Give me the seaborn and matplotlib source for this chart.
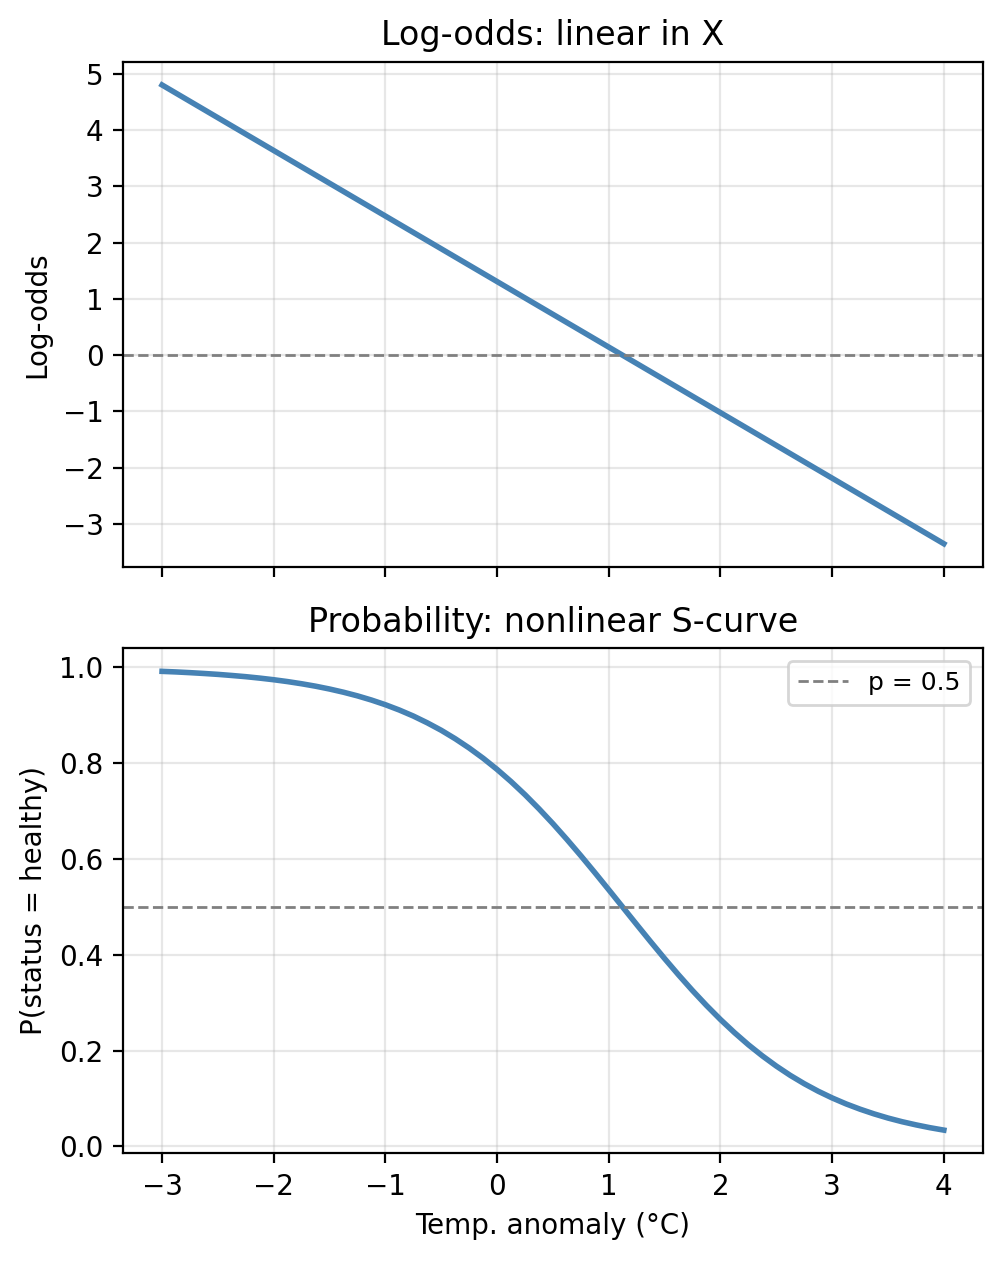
import numpy as np
import pandas as pd
import matplotlib
matplotlib.use("Agg")
import matplotlib.pyplot as plt
from matplotlib.ticker import MultipleLocator
import seaborn as sns

# values
# top panel: log-odds line
logit_x = [-3.0, -2.0, -1.0, 0.0, 1.0, 2.0, 3.0, 4.0]
log_odds = [4.799, 3.635, 2.471, 1.307, 0.143, -1.021, -2.185, -3.349]

# bottom panel: probability curve
prob_x = [-3.0, -2.875, -2.75, -2.625, -2.5, -2.375, -2.25, -2.125,
          -2.0, -1.875, -1.75, -1.625, -1.5, -1.375, -1.25, -1.125,
          -1.0, -0.875, -0.75, -0.625, -0.5, -0.375, -0.25, -0.125,
          0.0, 0.125, 0.25, 0.375, 0.5, 0.625, 0.75, 0.875,
          1.0, 1.125, 1.25, 1.375, 1.5, 1.625, 1.75, 1.875,
          2.0, 2.125, 2.25, 2.375, 2.5, 2.625, 2.75, 2.875,
          3.0, 3.125, 3.25, 3.375, 3.5, 3.625, 3.75, 3.875, 4.0]
p_healthy = [0.9918, 0.9906, 0.9891, 0.9874, 0.9855, 0.9832, 0.9807, 0.9777,
             0.9743, 0.9704, 0.9659, 0.9608, 0.9549, 0.9482, 0.9406, 0.9319,
             0.9221, 0.9110, 0.8985, 0.8843, 0.8687, 0.8511, 0.8317, 0.8104,
             0.7870, 0.7616, 0.7342, 0.7048, 0.6737, 0.6409, 0.6068, 0.5716,
             0.5357, 0.4994, 0.4631, 0.4272, 0.3920, 0.3579, 0.3252, 0.2941,
             0.2648, 0.2375, 0.2121, 0.1889, 0.1676, 0.1482, 0.1308, 0.1151,
             0.1011, 0.0886, 0.0776, 0.0678, 0.0591, 0.0515, 0.0449, 0.0390, 0.0339]

df_top = pd.DataFrame({"x": logit_x, "logit": log_odds})
df_bot = pd.DataFrame({"x": prob_x, "p": p_healthy})

plt.rcParams["font.family"] = ["DejaVu Sans"]
fig, (ax1, ax2) = plt.subplots(2, 1, figsize=(5.015, 6.305), dpi=200, sharex=True)
fig.subplots_adjust(left=0.1226, right=0.980, top=0.9508, bottom=0.0856, hspace=0.162)

# top: log-odds
sns.lineplot(data=df_top, x="x", y="logit", ax=ax1, color="steelblue", linewidth=2)
ax1.axhline(0, color="gray", linestyle="--", linewidth=1)
ax1.set_title("Log-odds: linear in X")
ax1.set_ylabel("Log-odds")
ax1.set_xlabel("")
ax1.yaxis.set_major_locator(MultipleLocator(1))
ax1.grid(True, alpha=0.3)

# bottom: probability
sns.lineplot(data=df_bot, x="x", y="p", ax=ax2, color="steelblue", linewidth=2)
ax2.axhline(0.5, color="gray", linestyle="--", linewidth=1, label="p = 0.5")
ax2.set_title("Probability: nonlinear S-curve")
ax2.set_ylabel("P(status = healthy)")
ax2.set_xlabel("Temp. anomaly (°C)")
ax2.grid(True, alpha=0.3)
ax2.legend(fontsize=9, loc="upper right")

plt.savefig("out.png", dpi=200)
